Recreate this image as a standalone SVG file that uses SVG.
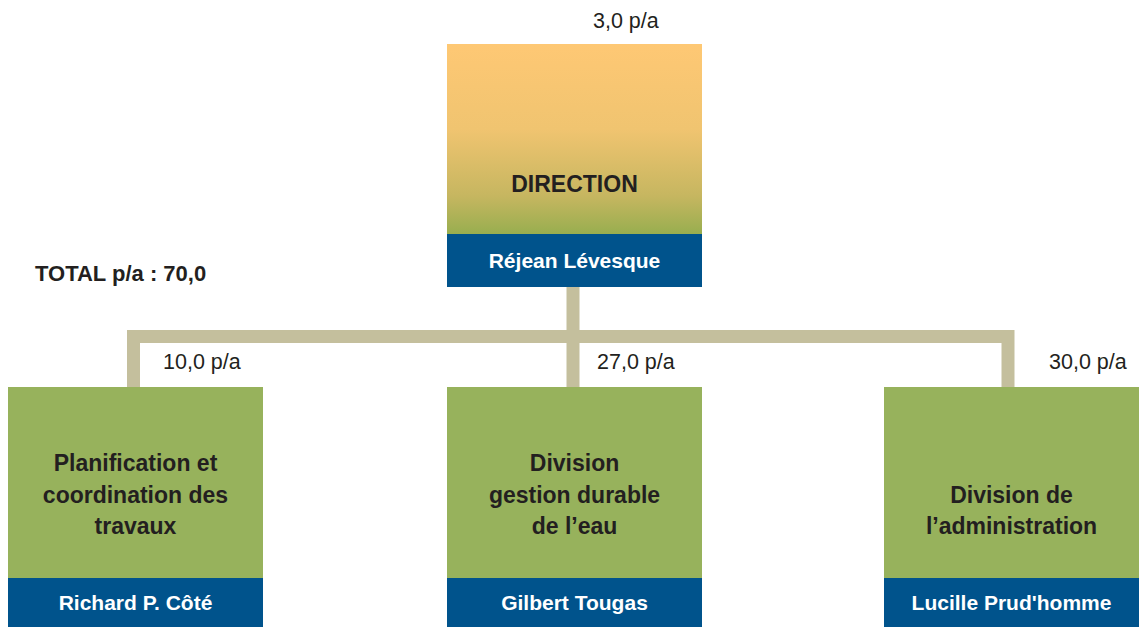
<svg xmlns="http://www.w3.org/2000/svg" width="1144" height="627" viewBox="0 0 1144 627">
<defs>
<linearGradient id="dirGrad" x1="0" y1="0" x2="0" y2="1">
<stop offset="0" stop-color="#FEC874"/>
<stop offset="0.45" stop-color="#F0C470"/>
<stop offset="0.8" stop-color="#C6B660"/>
<stop offset="1" stop-color="#98AE4F"/>
</linearGradient>
<style>
.green{fill:#97B25C}
.band{fill:#00538C}
.title{font-family:"Liberation Sans",Arial,sans-serif;font-weight:bold;font-size:23px;fill:#231F20;text-anchor:middle}
.name{font-family:"Liberation Sans",Arial,sans-serif;font-weight:bold;font-size:21px;fill:#FFFFFF;text-anchor:middle}
.pa{font-family:"Liberation Sans",Arial,sans-serif;font-size:21.5px;fill:#231F20}
.total{font-family:"Liberation Sans",Arial,sans-serif;font-weight:bold;font-size:22px;fill:#231F20}
.conn{fill:none;stroke:#C4BF9D;stroke-width:13;stroke-linejoin:miter}
</style>
</defs>
<rect width="1144" height="627" fill="#FFFFFF"/>
<g id="connectors">
<path class="conn" d="M133.5,387 V336.5 H1008 V387"/>
<path class="conn" d="M573,287 V387"/>
</g>
<g id="direction">
<rect x="447" y="44" width="255" height="190" fill="url(#dirGrad)"/>
<rect class="band" x="447" y="234" width="255" height="53"/>
<text class="title" x="574.5" y="192">DIRECTION</text>
<text class="name" x="574.5" y="268">Réjean Lévesque</text>
<text class="pa" x="593" y="28">3,0 p/a</text>
</g>
<g id="total">
<text class="total" x="35" y="281">TOTAL p/a  :  70,0</text>
</g>
<g id="planification">
<rect class="green" x="8" y="387" width="255" height="191"/>
<rect class="band" x="8" y="578" width="255" height="49"/>
<text class="title" x="135.5" y="471">Planification et</text>
<text class="title" x="135.5" y="503">coordination des</text>
<text class="title" x="135.5" y="534">travaux</text>
<text class="name" x="135.5" y="610">Richard P. Côté</text>
<text class="pa" x="163" y="369">10,0 p/a</text>
</g>
<g id="eau">
<rect class="green" x="447" y="387" width="255" height="191"/>
<rect class="band" x="447" y="578" width="255" height="49"/>
<text class="title" x="574.5" y="471">Division</text>
<text class="title" x="574.5" y="503">gestion durable</text>
<text class="title" x="574.5" y="534">de l’eau</text>
<text class="name" x="574.5" y="610">Gilbert Tougas</text>
<text class="pa" x="597" y="369">27,0 p/a</text>
</g>
<g id="administration">
<rect class="green" x="884" y="387" width="255" height="191"/>
<rect class="band" x="884" y="578" width="255" height="49"/>
<text class="title" x="1011.5" y="503">Division de</text>
<text class="title" x="1011.5" y="534">l’administration</text>
<text class="name" x="1011.5" y="610">Lucille Prud'homme</text>
<text class="pa" x="1049" y="369">30,0 p/a</text>
</g>
</svg>
